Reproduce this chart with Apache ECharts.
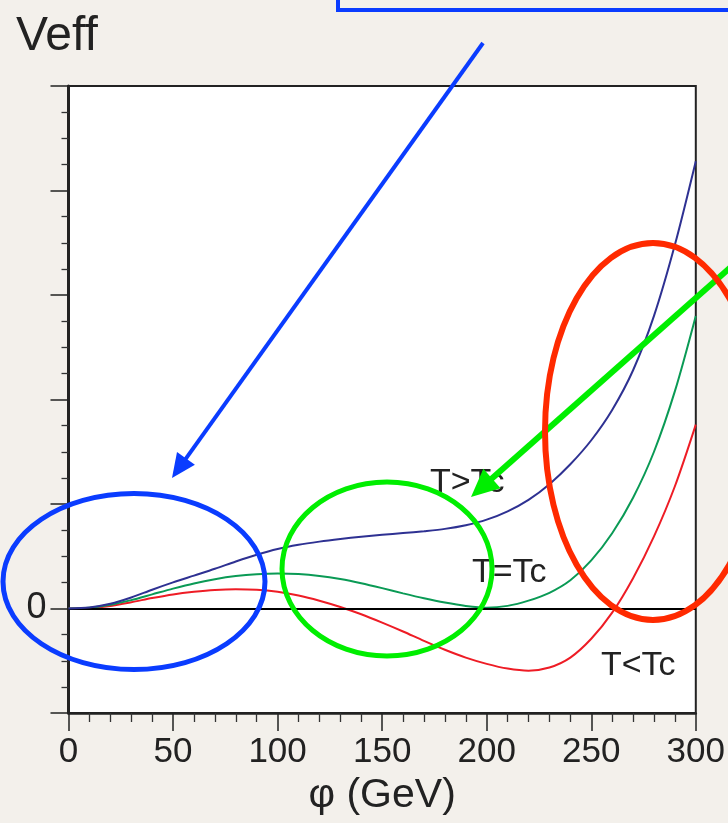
<!DOCTYPE html>
<html>
<head>
<meta charset="utf-8">
<script src="https://cdn.jsdelivr.net/npm/echarts@6/dist/echarts.min.js"></script>
<style>
html,body{margin:0;padding:0;background:#f3f0eb;}
#chart{width:728px;height:823px;}
</style>
</head>
<body>
<div id="chart"></div>
<script>
// ---- data ----
const phi = [0,10,20,30,40,50,60,70,80,90,100,110,120,130,140,150,160,170,180,190,200,210,220,230,240,250,260,270,280,290,300];
const vAbove = [0,0.01,0.045,0.105,0.18,0.25,0.315,0.38,0.45,0.515,0.57,0.61,0.64,0.665,0.687,0.705,0.722,0.74,0.762,0.797,0.85,0.93,1.04,1.19,1.38,1.61,1.90,2.28,2.80,3.48,4.28];
const vCrit = [0,0.008,0.035,0.08,0.135,0.19,0.24,0.28,0.31,0.328,0.335,0.33,0.312,0.282,0.242,0.195,0.145,0.098,0.057,0.025,0.008,0.025,0.075,0.15,0.27,0.46,0.72,1.06,1.50,2.08,2.80];
const vBelow = [0,0.005,0.025,0.06,0.10,0.135,0.16,0.178,0.185,0.18,0.16,0.125,0.075,0.015,-0.055,-0.135,-0.22,-0.31,-0.395,-0.47,-0.53,-0.575,-0.595,-0.565,-0.47,-0.29,-0.04,0.29,0.69,1.17,1.76];
const curveLabels = ['T>Tc','T=Tc','T<Tc'];
const xTickLabels = ['0','50','100','150','200','250','300'];
const yLabelShown = [0];

const FONT = '"Liberation Sans", Arial, Helvetica, sans-serif';
const chart = echarts.init(document.getElementById('chart'), null, {renderer:'canvas'});

function arrow(x1,y1,x2,y2,color,w,headLen,headHalf){
  const dx=x2-x1, dy=y2-y1, L=Math.hypot(dx,dy), ux=dx/L, uy=dy/L;
  const bx=x2-ux*headLen, by=y2-uy*headLen;
  const px=-uy, py=ux;
  return [
    {type:'line', shape:{x1:x1,y1:y1,x2:bx+ux*2,y2:by+uy*2}, style:{stroke:color,lineWidth:w}, z:100},
    {type:'polygon', shape:{points:[[x2,y2],[bx+px*headHalf,by+py*headHalf],[bx-px*headHalf,by-py*headHalf]]}, style:{fill:color}, z:100}
  ];
}

const graphics = [
  {type:'text', left:16, top:13, style:{text:'Veff', font:'48px '+FONT, fill:'#222'}, z:100},
  {type:'rect', shape:{x:338,y:-30,width:440,height:40}, style:{stroke:'#0a3cff',fill:null,lineWidth:4}, z:100},
  ...arrow(483,43,172,478,'#0a3cff',4,24,11),
  {type:'ellipse', shape:{cx:134,cy:581.5,rx:131,ry:88}, style:{stroke:'#0a3cff',fill:null,lineWidth:5}, z:100},
  {type:'ellipse', shape:{cx:387,cy:569,rx:105,ry:87}, style:{stroke:'#00ee00',fill:null,lineWidth:5}, z:100},
  ...arrow(740,259,471,497,'#00ee00',6,28,13),
  {type:'ellipse', shape:{cx:653,cy:431.5,rx:108,ry:188.5}, style:{stroke:'#ff2a00',fill:null,lineWidth:6}, z:100},
  {type:'text', x:430, y:466, style:{text:curveLabels[0], font:'34px '+FONT, fill:'#222'}, z:90},
  {type:'text', x:472, y:556, style:{text:curveLabels[1], font:'34px '+FONT, fill:'#222'}, z:90},
  {type:'text', x:601, y:649, style:{text:curveLabels[2], font:'34px '+FONT, fill:'#222'}, z:90}
];

function mk(vals,color,z){
  return {type:'line', data:phi.map((x,i)=>[x,vals[i]]), smooth:0.3, symbol:'none',
    lineStyle:{color:color,width:2}, z:z, silent:true, animation:false};
}
const s1 = mk(vAbove,'#2e3192',5);
s1.markLine = {silent:true, symbol:'none', label:{show:false}, animation:false,
  lineStyle:{color:'#000',width:2.2,type:'solid'}, data:[{yAxis:0}]};

chart.setOption({
  animation:false,
  backgroundColor:'#f3f0eb',
  grid:{left:68.5, right:31, top:86, bottom:110, show:true, backgroundColor:'#ffffff', borderColor:'#222', borderWidth:2},
  xAxis:{type:'value', min:0, max:300, interval:50,
    axisLine:{show:true, onZero:false, lineStyle:{color:'#222',width:2.5}},
    axisTick:{show:true, length:18, lineStyle:{color:'#222',width:1.5}},
    minorTick:{show:true, splitNumber:5, length:9, lineStyle:{color:'#333',width:1.3}},
    splitLine:{show:false},
    axisLabel:{fontSize:35, color:'#222', margin:22, fontFamily:FONT,
      formatter:(v)=>xTickLabels[Math.round(v/50)] ?? ''},
    name:'φ (GeV)', nameLocation:'middle', nameGap:57,
    nameTextStyle:{fontSize:41, color:'#222', fontFamily:FONT}
  },
  yAxis:{type:'value', min:-1, max:5, interval:1,
    axisLine:{show:true, onZero:false, lineStyle:{color:'#222',width:3}},
    axisTick:{show:true, length:18, lineStyle:{color:'#222',width:1.5}},
    minorTick:{show:true, splitNumber:4, length:7, lineStyle:{color:'#333',width:1.3}},
    splitLine:{show:false},
    axisLabel:{fontSize:36, color:'#222', margin:22, fontFamily:FONT,
      formatter:(v)=>yLabelShown.includes(v)?String(v):''}
  },
  series:[ s1, mk(vCrit,'#0a9a55',4), mk(vBelow,'#ee1c25',3) ],
  graphic:graphics
});
</script>
</body>
</html>
